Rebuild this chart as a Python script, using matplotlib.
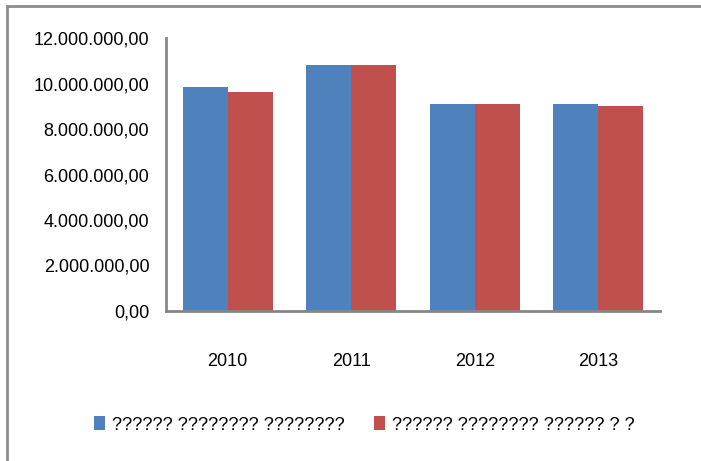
import matplotlib.pyplot as plt
from matplotlib.patches import Rectangle
from matplotlib.ticker import FuncFormatter
import numpy as np

years = ['2010', '2011', '2012', '2013']
series_a = [9850000, 10830000, 9110000, 9110000]
series_b = [9640000, 10830000, 9110000, 9000000]
legend_labels = ['?????? ???????? ????????', '?????? ???????? ?????? ? ?']
colors = ['#4f81bd', '#c0504d']

plt.rcParams['font.family'] = ['Liberation Sans', 'DejaVu Sans']

fig = plt.figure(figsize=(7.01, 4.61), dpi=100)
ax = fig.add_axes([166 / 701, 150 / 461, 494 / 701, 273 / 461])

# outer chart frame (cut off at right/bottom like the reference)
fig.patches.append(Rectangle((7 / 701, -0.1), 1.2, (461 - 6) / 461 + 0.1,
                             transform=fig.transFigure, fill=False,
                             edgecolor='#8c8c8c', linewidth=2))

x = np.arange(len(years))
w = 0.364
ax.bar(x - w / 2, series_a, w, color=colors[0], label=legend_labels[0])
ax.bar(x + w / 2, series_b, w, color=colors[1], label=legend_labels[1])

ax.set_xlim(-0.5, len(years) - 0.5)
ax.set_ylim(0, 12000000)
ax.set_yticks(np.arange(0, 12000001, 2000000))


def fmt(v, pos):
    s = f'{v:,.2f}'
    return s.replace(',', 'X').replace('.', ',').replace('X', '.')


ax.yaxis.set_major_formatter(FuncFormatter(fmt))
ax.set_xticks(x)
ax.set_xticklabels(years)
ax.tick_params(axis='both', length=0, labelsize=13)
ax.tick_params(axis='y', pad=12)
ax.tick_params(axis='x', pad=30)

for s in ['top', 'right']:
    ax.spines[s].set_visible(False)
for s in ['left', 'bottom']:
    ax.spines[s].set_color('#868686')
    ax.spines[s].set_linewidth(2)

fig.legend(loc='center', bbox_to_anchor=(0.52, 1 - 425 / 461), ncol=2,
           frameon=False, fontsize=13, handlelength=0.6, handleheight=0.8,
           columnspacing=1.6, handletextpad=0.4)

fig.savefig('out.png', dpi=100)
